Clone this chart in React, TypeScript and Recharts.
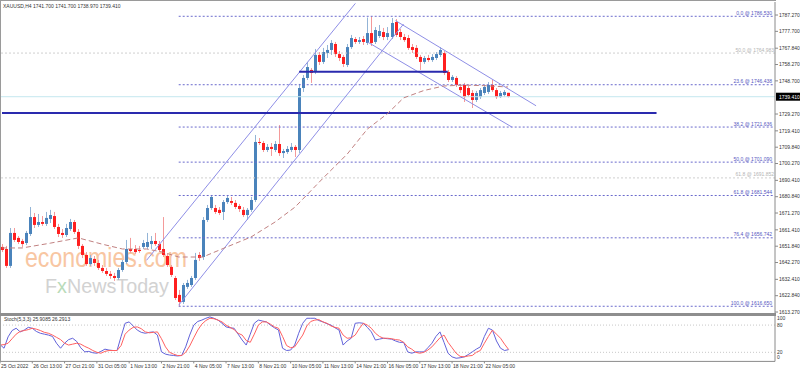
import React from 'react';
import { ComposedChart, Bar, Line, XAxis, YAxis, ReferenceLine } from 'recharts';

const FONT = '"Liberation Sans", Arial, sans-serif';
const SLOTS = 193; // bar slots across the price area (chart shift leaves room on the right)

// XAUUSD H4 candles from 25 Oct 2022 05:00
const openP = [
  1651.4, 1650.2, 1640.3, 1659.6, 1656.7, 1654.9, 1653.7, 1659.0, 1668.9, 1664.3,
  1666.0, 1664.9, 1667.8, 1669.5, 1663.1, 1659.6, 1658.4, 1661.9, 1666.0, 1660.2,
  1652.0, 1646.7, 1641.4, 1644.4, 1642.0, 1639.1, 1637.3, 1635.6, 1634.4, 1633.2,
  1637.9, 1642.6, 1650.2, 1650.2, 1649.6, 1651.4, 1651.4, 1653.1, 1654.9, 1653.1,
  1650.2, 1646.1, 1639.7, 1633.2, 1623.3, 1619.2, 1628.0, 1629.1, 1633.2, 1646.7,
  1645.5, 1667.2, 1674.2, 1674.2, 1673.1, 1671.9, 1677.7, 1678.3, 1677.2, 1675.4,
  1673.1, 1670.1, 1673.1, 1678.9, 1712.9, 1712.3, 1708.2, 1710.0, 1708.2, 1711.7,
  1706.4, 1707.0, 1708.2, 1710.0, 1708.2, 1744.5, 1750.4, 1755.1, 1753.9, 1763.9,
  1759.8, 1765.0, 1766.8, 1770.3, 1764.4, 1762.7, 1758.0, 1768.5, 1773.2, 1771.5,
  1773.2, 1770.9, 1776.7, 1771.5, 1775.0, 1777.3, 1774.4, 1774.4, 1783.2, 1777.3,
  1774.4, 1773.8, 1768.5, 1768.0, 1762.7, 1759.8, 1762.1, 1760.9, 1762.1, 1763.9,
  1765.0, 1753.9, 1749.2, 1750.4, 1745.1, 1746.3, 1744.5, 1741.6, 1737.5, 1739.2,
  1741.6, 1742.2, 1746.3, 1743.3, 1739.2, 1740.4, 1741.7,
];
const highP = [
  1653.1, 1652.0, 1662.5, 1662.5, 1657.8, 1656.1, 1660.8, 1674.8, 1671.3, 1670.7,
  1669.5, 1671.9, 1673.1, 1671.9, 1664.9, 1661.9, 1664.9, 1667.8, 1667.2, 1661.9,
  1653.1, 1648.4, 1646.7, 1646.1, 1643.8, 1640.8, 1639.1, 1637.3, 1636.2, 1639.1,
  1643.8, 1655.5, 1656.7, 1652.5, 1652.0, 1655.5, 1659.6, 1657.8, 1659.6, 1654.9,
  1668.9, 1647.3, 1640.8, 1634.4, 1626.2, 1630.3, 1632.1, 1634.4, 1647.9, 1648.4,
  1668.9, 1676.0, 1681.8, 1676.0, 1674.8, 1678.9, 1681.8, 1680.7, 1678.9, 1676.6,
  1674.8, 1674.2, 1680.7, 1717.0, 1715.2, 1713.5, 1711.7, 1712.3, 1713.5, 1722.8,
  1708.8, 1710.5, 1712.3, 1711.1, 1746.9, 1752.1, 1759.8, 1756.2, 1767.4, 1765.6,
  1768.0, 1769.7, 1772.6, 1771.5, 1766.2, 1763.9, 1770.3, 1775.6, 1774.4, 1774.4,
  1775.0, 1785.8, 1786.53, 1780.2, 1781.4, 1779.7, 1780.2, 1785.5, 1784.9, 1779.1,
  1776.2, 1775.6, 1770.3, 1769.7, 1763.9, 1763.3, 1763.9, 1764.4, 1765.6, 1768.5,
  1766.2, 1755.1, 1752.1, 1751.5, 1746.9, 1747.5, 1745.7, 1743.3, 1742.8, 1744.5,
  1746.3, 1748.0, 1749.2, 1744.5, 1742.8, 1743.3, 1741.7,
];
const lowP = [
  1648.4, 1639.1, 1639.1, 1654.3, 1653.1, 1651.4, 1652.5, 1657.8, 1662.5, 1663.1,
  1663.7, 1663.7, 1665.4, 1661.9, 1657.2, 1656.7, 1657.2, 1660.8, 1659.0, 1650.2,
  1644.9, 1640.3, 1640.3, 1640.3, 1637.9, 1636.2, 1634.4, 1632.7, 1631.5, 1632.1,
  1636.8, 1641.4, 1647.9, 1647.3, 1647.9, 1650.2, 1650.2, 1650.2, 1652.0, 1648.4,
  1645.5, 1639.7, 1633.8, 1620.3, 1616.65, 1618.0, 1626.8, 1628.0, 1632.1, 1643.2,
  1643.8, 1666.0, 1673.1, 1670.7, 1670.1, 1667.2, 1676.6, 1676.0, 1673.6, 1671.9,
  1668.9, 1667.2, 1671.9, 1677.7, 1711.1, 1707.0, 1707.0, 1704.7, 1707.0, 1704.7,
  1703.5, 1705.9, 1707.0, 1704.1, 1706.4, 1742.2, 1749.2, 1747.5, 1752.7, 1758.0,
  1758.6, 1762.1, 1763.9, 1762.7, 1760.3, 1756.8, 1756.8, 1767.4, 1770.3, 1770.3,
  1769.7, 1769.7, 1769.1, 1770.3, 1773.8, 1772.6, 1772.6, 1773.2, 1774.4, 1772.6,
  1771.5, 1766.8, 1765.0, 1761.5, 1755.1, 1758.6, 1759.8, 1759.8, 1760.9, 1762.7,
  1752.1, 1748.0, 1748.0, 1745.1, 1741.6, 1736.3, 1739.2, 1732.8, 1736.3, 1738.1,
  1740.4, 1741.0, 1742.2, 1738.1, 1738.7, 1739.2, 1738.97,
];
const closeP = [
  1649.6, 1640.3, 1659.6, 1655.5, 1654.3, 1653.1, 1659.6, 1668.9, 1664.3, 1666.0,
  1664.9, 1668.4, 1670.1, 1663.1, 1659.0, 1658.4, 1662.5, 1666.0, 1660.2, 1652.0,
  1646.7, 1641.4, 1644.9, 1642.0, 1639.1, 1637.3, 1635.6, 1634.4, 1633.2, 1637.9,
  1642.6, 1650.2, 1649.0, 1648.4, 1649.0, 1653.7, 1654.3, 1654.9, 1653.1, 1649.6,
  1646.7, 1640.8, 1635.0, 1621.5, 1619.2, 1629.1, 1630.3, 1633.2, 1643.8, 1644.9,
  1667.2, 1674.2, 1680.7, 1671.9, 1671.3, 1677.7, 1680.1, 1677.2, 1674.8, 1673.6,
  1670.1, 1673.1, 1678.9, 1712.9, 1712.3, 1708.2, 1710.0, 1708.8, 1711.7, 1706.4,
  1707.6, 1708.8, 1710.0, 1708.2, 1744.5, 1750.4, 1756.8, 1753.3, 1763.9, 1759.8,
  1765.6, 1766.8, 1770.9, 1764.4, 1762.1, 1758.6, 1768.5, 1773.8, 1771.5, 1772.6,
  1771.5, 1776.7, 1770.9, 1778.5, 1777.9, 1774.4, 1776.7, 1782.6, 1775.6, 1774.4,
  1772.6, 1768.0, 1766.8, 1762.7, 1759.8, 1762.1, 1760.9, 1762.7, 1764.4, 1766.8,
  1753.3, 1749.2, 1751.0, 1746.3, 1743.3, 1739.2, 1740.4, 1737.5, 1741.6, 1743.3,
  1745.1, 1746.3, 1743.3, 1739.2, 1741.6, 1742.2, 1739.41,
];

// Stochastic(5,3,3): main (%K) and signal (%D)
const stochK = [
  37, 29, 54, 68, 73, 65, 69, 75, 73, 66,
  62, 60, 58, 55, 40, 29, 40, 48, 51, 44,
  30, 21, 22, 19, 18, 22, 27, 25, 24, 24,
  55, 84, 87, 78, 69, 64, 62, 64, 65, 58,
  21, 16, 14, 13, 12, 13, 32, 58, 80, 88,
  91, 95, 98, 95, 91, 84, 76, 74, 73, 60,
  47, 36, 60, 84, 91, 89, 87, 80, 74, 69,
  29, 24, 25, 36, 62, 84, 95, 95, 95, 90,
  87, 83, 80, 74, 69, 36, 45, 51, 84, 85,
  84, 75, 65, 47, 49, 51, 50, 49, 45, 42,
  42, 21, 18, 21, 21, 21, 30, 40, 55, 65,
  42, 18, 10, 7, 8, 10, 15, 21, 27, 32,
  55, 73, 69, 45, 29, 24, 25.9085,
];
const stochD = [
  36, 37, 40, 50, 60, 66, 68, 70, 73, 71,
  68, 64, 62, 58, 53, 48, 40, 36, 38, 40,
  38, 33, 29, 24, 20, 18, 22, 24, 24, 24,
  35, 60, 69, 75, 76, 72, 65, 63, 64, 65,
  50, 32, 20, 16, 13, 13, 20, 34, 52, 69,
  82, 90, 95, 94, 91, 87, 80, 75, 70, 62,
  58, 46, 42, 60, 80, 87, 87, 82, 76, 73,
  55, 35, 30, 32, 45, 58, 78, 88, 91, 92,
  87, 84, 78, 75, 73, 58, 51, 52, 58, 72,
  84, 80, 73, 62, 55, 51, 51, 50, 48, 47,
  42, 32, 27, 20, 18, 20, 25, 32, 42, 52,
  58, 42, 30, 18, 11, 10, 12, 13, 20, 24,
  40, 55, 69, 60, 51, 38, 26.2913,
];

// moving average read at a few bars
const maIdx = [0, 5, 12, 19, 25, 30, 36, 40, 44, 50, 56, 62, 68, 73, 80, 86, 91, 96, 100, 105, 110, 115, 120, 126];
const maVal = [1650.8, 1650.8, 1653.6, 1656.7, 1653.0, 1650.2, 1650.2, 1648.4, 1645.5, 1645.5, 1651.4, 1657.2, 1666.0, 1674.8, 1691.8, 1705.9, 1720.5, 1729.5, 1738.7, 1743.0, 1745.7, 1746.2, 1745.9, 1745.1];

const timeLabels = [
  '25 Oct 2022', '26 Oct 13:00', '27 Oct 21:00', '31 Oct 05:00', '1 Nov 13:00', '2 Nov 21:00',
  '4 Nov 05:00', '7 Nov 13:00', '8 Nov 21:00', '10 Nov 05:00', '11 Nov 13:00', '14 Nov 21:00',
  '16 Nov 05:00', '17 Nov 13:00', '18 Nov 21:00', '22 Nov 05:00',
];
const priceTicks = [
  1787.27, 1777.7, 1767.84, 1758.27, 1748.7, 1729.27, 1719.41, 1709.84, 1700.27, 1690.41,
  1680.84, 1671.27, 1661.41, 1651.84, 1642.27, 1632.41, 1622.84, 1613.27,
];
const stochTicks = [0, 20, 80, 100];

const fibLevels = ['0.0', '23.6', '38.2', '50.0', '61.8', '76.4', '100.0'];
const fibPrices = [1786.53, 1746.438, 1721.636, 1701.09, 1681.544, 1656.742, 1616.65];
const fibStartBar = 44;
const fib2Levels = ['50.0', '61.8'];
const fib2Prices = [1764.983, 1691.852];

// trend lines: [bar, price, bar, price]
const channelUp = [[36, 1643.6, 88, 1794.1], [44, 1617.3, 100, 1782.0]];
const channelDown = [[98, 1784.0, 133, 1734.1], [91, 1771.5, 127, 1721.6]];
// horizontal levels: [fromBar, toBar, price]
const levels = [[0, 163, 1729.9], [74, 111, 1754.05]];
const lastPrice = 1739.41;

const rows = Array.from({ length: SLOTS }, (_, i) => {
  if (i >= openP.length) return { i };
  const m = maIdx.indexOf(i);
  return {
    i,
    o: openP[i], h: highP[i], l: lowP[i], c: closeP[i],
    range: [lowP[i], highP[i]],
    k: stochK[i], d: stochD[i],
    ma: m >= 0 ? maVal[m] : null,
  };
});

const Candle = (props: any) => {
  const { x, y, width, height, payload } = props;
  if (!payload || payload.o == null) return null;
  const { o, h, l, c } = payload;
  const top = Math.min(y, y + height);
  const span = Math.abs(height);
  const k = h - l > 0 ? span / (h - l) : 0;
  const py = (p: number) => top + (h - p) * k;
  const up = c >= o;
  const bx = Math.round(x + width / 2 - 1.5);
  const b1 = py(Math.max(o, c));
  const b2 = py(Math.min(o, c));
  return (
    <g>
      <line x1={bx + 1.5} x2={bx + 1.5} y1={top} y2={top + span} stroke={up ? '#93b4d6' : '#f49a9a'} strokeWidth={1} />
      <rect x={bx} y={b1} width={3} height={Math.max(1, b2 - b1)} fill={up ? '#4a83bb' : '#ff1f1f'} />
    </g>
  );
};

const lineLabel = (text: string, color: string) => (props: any) => {
  const vb = props.viewBox || {};
  return (
    <text x={(vb.x || 0) + (vb.width || 0) - 1} y={(vb.y || 0) - 1.5} textAnchor="end" fontSize={5} fill={color} fontFamily={FONT}>
      {text}
    </text>
  );
};

const priceBox = (props: any) => {
  const vb = props.viewBox || {};
  const x = (vb.x || 0) + (vb.width || 0) + 1;
  return (
    <g>
      <rect x={x} y={(vb.y || 0) - 4} width={24} height={8} fill="#000" />
      <text x={x + 3} y={(vb.y || 0) + 1.8} fontSize={5} fill="#fff" fontFamily={FONT}>{lastPrice.toFixed(3)}</text>
    </g>
  );
};

const TimeTick = (props: any) => {
  const { x, y, payload } = props;
  const v = payload.value;
  if (v % 8 !== 0 || v / 8 >= timeLabels.length) return null;
  return (
    <g>
      <line x1={x} x2={x} y1={y} y2={y + 2} stroke="#8a8a8a" />
      <text x={x + 1} y={y + 7} fontSize={5} fill="#333" fontFamily={FONT}>{timeLabels[v / 8]}</text>
    </g>
  );
};

const StochTick = (props: any) => {
  const { y, payload } = props;
  const v = payload.value;
  const dy = v === 100 ? 3.6 : v === 0 ? -2.3 : 1.8;
  return (
    <text x={777} y={y + dy} fontSize={5} fill="#333" fontFamily={FONT}>{v}</text>
  );
};

export default function App() {
  return (
    <div style={{ position: 'absolute', left: 0, top: 0, width: 800, height: 372, background: '#fff', overflow: 'hidden' }}>
      <svg width={800} height={372} style={{ position: 'absolute', left: 0, top: 0 }}>
        <text x={25} y={267} fontSize={28} fill="#f8c6a2" fontFamily={FONT} textLength={162} lengthAdjust="spacingAndGlyphs">
          economies.com
        </text>
        <text x={45} y={293} fontSize={20} fill="#d2d2d2" fontFamily={FONT} textLength={124} lengthAdjust="spacingAndGlyphs">
          F<tspan fill="#b9dbb9">x</tspan>NewsToday
        </text>
      </svg>

      <div style={{ position: 'absolute', left: 0, top: 0 }}>
        <ComposedChart width={800} height={316} data={rows} margin={{ top: 2, right: 0, bottom: 3, left: 0 }}>
          <XAxis dataKey="i" hide />
          <YAxis
            orientation="right"
            width={25}
            domain={[1612.7, 1794.9]}
            allowDataOverflow
            ticks={priceTicks}
            interval={0}
            tickFormatter={(v: number) => v.toFixed(3)}
            tick={{ fontSize: 5, fill: '#333', fontFamily: FONT }}
            tickSize={3}
            tickMargin={1}
            axisLine={{ stroke: '#8a8a8a' }}
            tickLine={{ stroke: '#8a8a8a' }}
          />
          <ReferenceLine y={lastPrice} stroke="#c4e7ef" label={priceBox} />
          {fib2Prices.map((p, n) => (
            <ReferenceLine key={'f2' + n} y={p} stroke="#cfcfcf" strokeDasharray="2 2"
              label={lineLabel(`${fib2Levels[n]} @ ${p.toFixed(3)}`, '#b4b4b4')} />
          ))}
          {fibPrices.map((p, n) => (
            <ReferenceLine key={'f' + n} segment={[{ x: fibStartBar, y: p }, { x: SLOTS - 1, y: p }]}
              stroke="#6a6acc" strokeDasharray="2 2"
              label={lineLabel(`${fibLevels[n]} @ ${p.toFixed(3)}`, '#5656c0')} />
          ))}
          {channelUp.concat(channelDown).map((s, n) => (
            <ReferenceLine key={'c' + n} segment={[{ x: s[0], y: s[1] }, { x: s[2], y: s[3] }]}
              stroke="#8e8ee6" strokeWidth={1} ifOverflow="visible" />
          ))}
          {levels.map((s, n) => (
            <ReferenceLine key={'h' + n} segment={[{ x: s[0], y: s[2] }, { x: s[1], y: s[2] }]}
              stroke="#2a2aae" strokeWidth={2} />
          ))}
          <Line dataKey="ma" stroke="#c08080" strokeWidth={1} strokeDasharray="5 3" dot={false} connectNulls isAnimationActive={false} />
          <Bar dataKey="range" barSize={3} shape={Candle} isAnimationActive={false} />
        </ComposedChart>
      </div>

      <div style={{ position: 'absolute', left: 0, top: 314 }}>
        <ComposedChart width={800} height={58} data={rows} margin={{ top: 2, right: 0, bottom: 0, left: 0 }}>
          <XAxis dataKey="i" height={10.6} interval={7} tick={TimeTick} tickLine={false} tickSize={0} tickMargin={0} axisLine={{ stroke: '#8a8a8a' }} />
          <YAxis orientation="right" width={25} domain={[0, 100]} ticks={stochTicks} interval={0} tick={StochTick} tickLine={false} axisLine={{ stroke: '#8a8a8a' }} />
          <ReferenceLine y={80} stroke="#c8c8c8" strokeDasharray="1 2" />
          <ReferenceLine y={20} stroke="#c8c8c8" strokeDasharray="1 2" />
          <Line dataKey="k" stroke="#6262da" strokeWidth={1} dot={false} isAnimationActive={false} />
          <Line dataKey="d" stroke="#ff6060" strokeWidth={1} dot={false} isAnimationActive={false} />
        </ComposedChart>
      </div>

      <svg width={800} height={372} style={{ position: 'absolute', left: 0, top: 0, pointerEvents: 'none' }}>
        <line x1={0.5} x2={0.5} y1={0} y2={362} stroke="#9a9a9a" />
        <line x1={0} x2={776} y1={0.5} y2={0.5} stroke="#9a9a9a" />
        <rect x={0} y={313} width={776} height={3} fill="#8e8e8e" />
        <text x={3} y={7.5} fontSize={5} fill="#333" fontFamily={FONT}>XAUUSD,H4  1741.700 1741.700 1738.970 1739.410</text>
        <text x={4} y={321} fontSize={5} fill="#333" fontFamily={FONT}>Stoch(5,3,3) 25.9085 26.2913</text>
      </svg>
    </div>
  );
}
